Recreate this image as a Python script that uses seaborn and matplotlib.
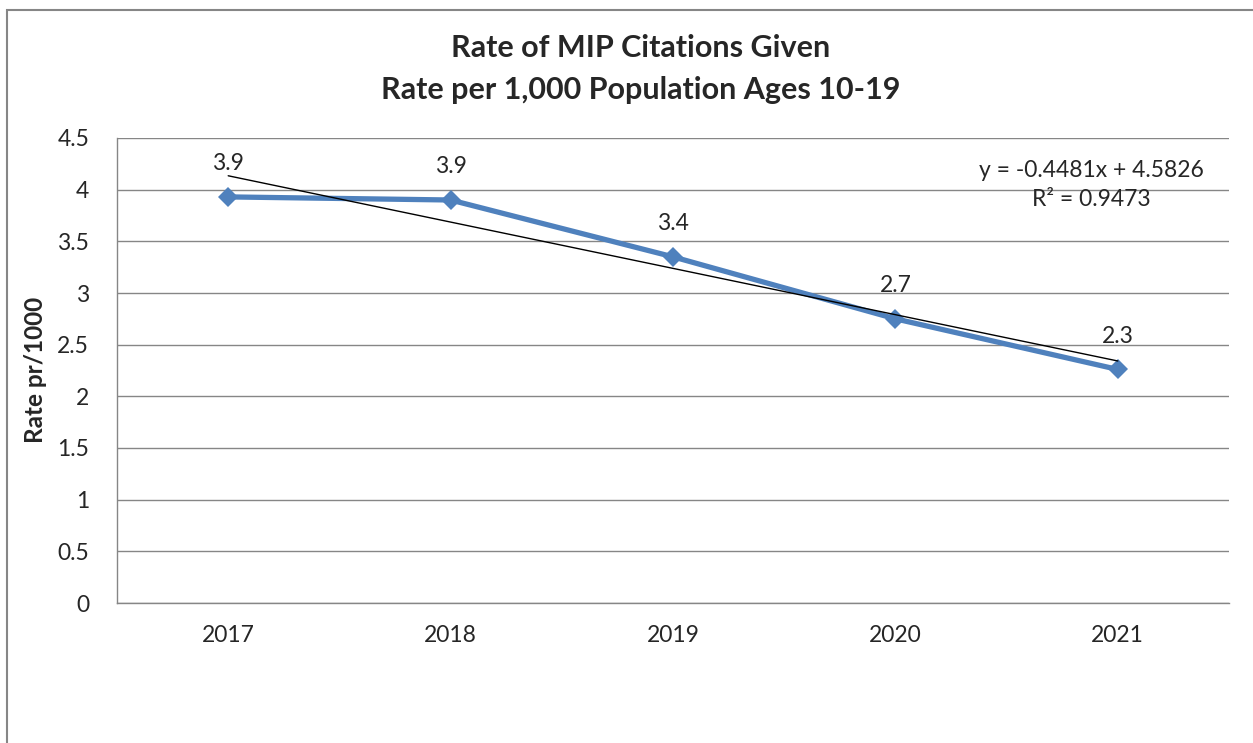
import numpy as np
import pandas as pd
import seaborn as sns
import matplotlib.pyplot as plt
from matplotlib.patches import Rectangle

# values
years = ['2017', '2018', '2019', '2020', '2021']
rates = [3.93, 3.90, 3.35, 2.75, 2.26]
rate_labels = ['3.9', '3.9', '3.4', '2.7', '2.3']
trend_slope = -0.4481
trend_intercept = 4.5826
trend_eq = 'y = -0.4481x + 4.5826'
trend_r2 = 'R² = 0.9473'
y_ticks = [0, 0.5, 1, 1.5, 2, 2.5, 3, 3.5, 4, 4.5]

sns.set_style('white')
plt.rcParams['font.family'] = ['Lato', 'DejaVu Sans']

df = pd.DataFrame({'year': years, 'rate': rates, 'pos': np.arange(len(years))})
df['trend'] = trend_slope * (df['pos'] + 1) + trend_intercept

fig = plt.figure(figsize=(12.53, 7.43), dpi=100)
fig.patches.append(Rectangle((7 / 1253, -0.1), 2, 1 - 10 / 743 + 0.1,
                             transform=fig.transFigure, fill=False,
                             edgecolor='#868686', lw=1.5))
ax = fig.add_axes([117 / 1253, 140 / 743, 1112 / 1253, 465 / 743])

sns.lineplot(data=df, x='pos', y='rate', color='#4F81BD', lw=3.8,
             marker='D', markersize=10, markeredgewidth=0, ax=ax, zorder=3)
sns.lineplot(data=df, x='pos', y='trend', color='black', lw=1.0, ax=ax, zorder=4)

for i, r in df.iterrows():
    ax.annotate(rate_labels[i], (r['pos'], r['rate']), xytext=(0, 24),
                textcoords='offset points', ha='center', va='center', fontsize=16.5)

ax.text(3.88, 4.19, trend_eq, ha='center', va='center', fontsize=16.5)
ax.text(3.88, 3.90, trend_r2, ha='center', va='center', fontsize=16.5)

ax.set_xlim(-0.5, 4.5)
ax.set_ylim(0, 4.5)
ax.set_xticks(df['pos'])
ax.set_xticklabels(years)
ax.set_yticks(y_ticks)
ax.set_yticklabels([f'{t:g}' for t in y_ticks])
ax.tick_params(length=0, labelsize=16.5)
ax.tick_params(axis='x', pad=16)
ax.tick_params(axis='y', pad=20)
ax.grid(axis='y', color='#868686', lw=1)
ax.set_axisbelow(True)
for s in ['top', 'right']:
    ax.spines[s].set_visible(False)
for s in ['left', 'bottom']:
    ax.spines[s].set_color('#868686')
    ax.spines[s].set_linewidth(1)
ax.set_xlabel('')
ax.set_ylabel('')

fig.text(0.511, 1 - 48 / 743, 'Rate of MIP Citations Given', ha='center', va='center',
         fontsize=22, fontweight='bold')
fig.text(0.511, 1 - 90 / 743, 'Rate per 1,000 Population Ages 10-19', ha='center', va='center',
         fontsize=22, fontweight='bold')
fig.text(36 / 1253, 1 - 370 / 743, 'Rate pr/1000', rotation=90, ha='center', va='center',
         fontsize=17.5, fontweight='bold')

fig.savefig('out.png', dpi=100)
